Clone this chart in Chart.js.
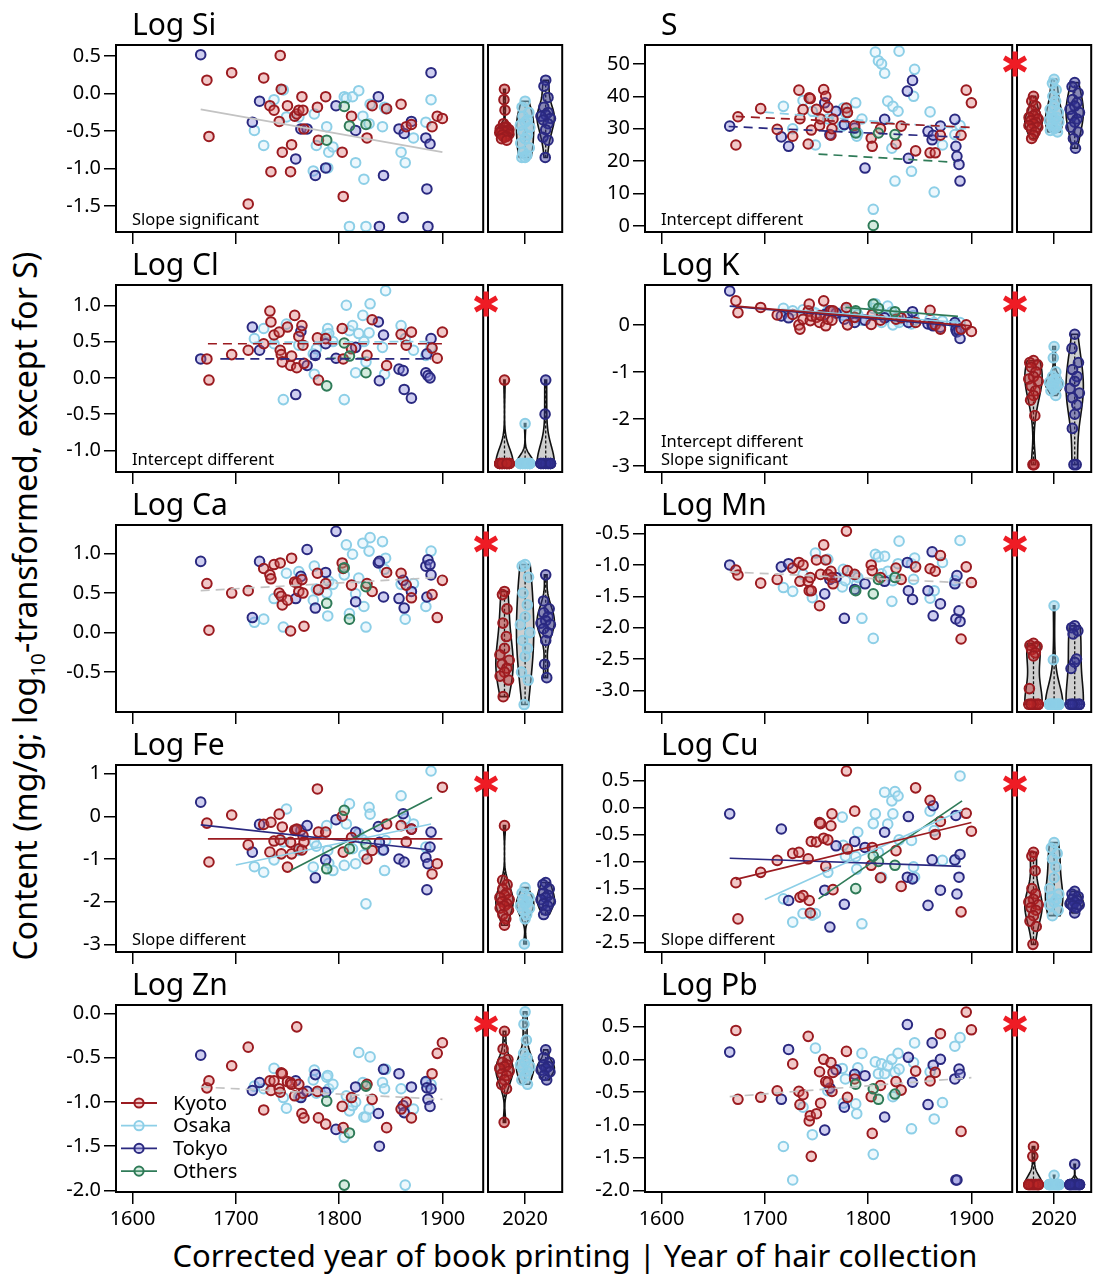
<!DOCTYPE html>
<html>
<head>
<meta charset="utf-8">
<script src="https://cdn.jsdelivr.net/npm/chart.js@4.4.1/dist/chart.umd.min.js"></script>
<style>
  html, body { margin: 0; padding: 0; background: #fff; }
  #fig { position: relative; width: 1104px; height: 1280px; overflow: hidden; font-family: 'Noto Sans', 'DejaVu Sans', sans-serif; color: #000; }
  #fig canvas { position: absolute; }
  .ytitle { position: absolute; left: 27px; top: 606px; transform: translate(-50%, -50%) rotate(-90deg); white-space: nowrap; font-size: 32px; }
  .ytitle sub { font-size: 0.65em; }
  .xtitle { position: absolute; left: 0; width: 1150px; top: 1234px; text-align: center; font-size: 31px; white-space: nowrap; }
</style>
</head>
<body>
<div id="fig">
  <div class="ytitle">Content (mg/g; log<sub>10</sub>-transformed, except for S)</div>
  <div class="xtitle">Corrected year of book printing | Year of hair collection</div>
</div>
<script>
// sample years (corrected year of printing) per city
const kyotoYears = [1672, 1674, 1696, 1712, 1727, 1733, 1734, 1737, 1742, 1743, 1744, 1745, 1750, 1753, 1754, 1757, 1759, 1761, 1764, 1765, 1766, 1779, 1780, 1787, 1803, 1804, 1812, 1827, 1832, 1846, 1860, 1865, 1870, 1890, 1895, 1900];
const osakaYears = [1718, 1727, 1737, 1746, 1749, 1761, 1775, 1776, 1778, 1788, 1789, 1790, 1794, 1805, 1807, 1810, 1813, 1816, 1819, 1823, 1824, 1826, 1829, 1830, 1842, 1844, 1845, 1860, 1864, 1872, 1884, 1889];
const tokyoYears = [1666, 1716, 1723, 1758, 1763, 1769, 1777, 1787, 1797, 1816, 1838, 1839, 1843, 1858, 1862, 1863, 1870, 1884, 1885, 1886, 1888, 1889];
const othersYears = [1788, 1805, 1810, 1826];
const cityNames = ['Kyoto', 'Osaka', 'Tokyo', 'Others'];
const yearTicks = [1600, 1700, 1800, 1900];
const modernLabel = '2020';

// Log Si
const siKyoto = [0.18, -0.57, 0.28, -1.47, 0.21, -0.16, -1.04, -0.22, -0.37, 0.51, 0.06, -0.78, -0.16, -1.04, -0.68, -0.30, -0.27, -0.22, -0.04, -0.22, -0.47, -0.18, -0.62, -0.04, -0.78, -1.37, -0.30, -0.59, -0.16, -0.20, -0.14, -0.44, -0.41, -0.44, -0.30, -0.33];
const siOsaka = [-0.49, -0.69, -0.08, 0.05, -0.31, -0.31, -1.03, -0.27, -0.69, -0.44, -0.99, -0.78, -0.71, -0.04, -0.06, -1.77, -0.04, -0.92, 0.04, -0.30, -1.14, -1.77, -0.40, -0.14, -0.44, -0.18, -0.20, -0.78, -0.92, -0.59, -0.38, -0.08];
const siTokyo = [0.52, -0.38, -0.10, -0.87, -0.47, -0.47, -1.09, -0.99, -0.16, -0.49, -0.04, -1.77, -1.09, -0.47, -1.65, -0.53, -0.37, -0.59, -1.27, -1.77, -0.67, 0.28];
const siOthers = [-0.62, -0.17, -0.43, -0.41];
const siNowKyoto = [0.06, -0.08, -0.22, -0.40, -0.44, -0.45, -0.47, -0.48, -0.49, -0.50, -0.51, -0.52, -0.54, -0.55, -0.57, -0.58, -0.60, -0.62];
const siNowOsaka = [-0.10, -0.18, -0.25, -0.30, -0.35, -0.38, -0.42, -0.45, -0.50, -0.55, -0.60, -0.66, -0.72, -0.78, -0.82, -0.85, -0.85];
const siNowTokyo = [0.18, 0.10, -0.05, -0.18, -0.25, -0.28, -0.30, -0.33, -0.35, -0.40, -0.48, -0.58, -0.62, -0.85];
const siFits = [{ city: 'all', from: [1666, -0.21], to: [1900, -0.78] }];
const siTicks = [0.5, 0, -0.5, -1, -1.5];

// S
const sKyoto = [25.0, 33.7, 36.2, 29.8, 27.7, 41.9, 33.1, 35.9, 25.3, 39.5, 39.3, 29.6, 36.0, 31.0, 33.0, 42.1, 40.0, 36.6, 28.0, 30.0, 33.0, 36.4, 35.0, 31.0, 27.1, 24.6, 30.0, 25.3, 30.8, 23.2, 22.6, 22.6, 28.0, 28.0, 41.9, 38.0];
const sOsaka = [36.9, 30.0, 38.7, 35.4, 25.0, 33.0, 30.8, 36.4, 35.0, 38.0, 27.7, 28.7, 33.0, 5.2, 53.6, 50.9, 50.0, 47.1, 38.5, 24.0, 36.9, 13.9, 35.4, 53.9, 16.9, 40.0, 48.3, 35.2, 10.5, 25.0, 28.2, 31.0];
const sTokyo = [30.8, 27.5, 24.6, 38.0, 28.2, 35.4, 31.3, 30.2, 17.9, 32.9, 41.6, 20.9, 44.9, 29.2, 26.6, 28.0, 30.8, 32.9, 24.6, 21.5, 19.0, 13.9];
const sOthers = [28.7, 0.2, 28.7, 28.2];
const sNowKyoto = [40, 38.5, 37, 35.5, 34.5, 34, 33.5, 33, 32.5, 32, 31.5, 31, 30.5, 30, 29, 28, 27];
const sNowOsaka = [45.2, 44, 42, 40, 38.5, 37, 36, 35, 34, 33.5, 33, 32.5, 32, 31, 30.5, 30, 29.5, 29];
const sNowTokyo = [44.2, 43, 41, 39, 38, 37, 36, 35, 34, 33, 32, 30.5, 29, 27, 24];
const sFits = [
  { city: 'Kyoto', from: [1672, 33.8], to: [1900, 30.4] },
  { city: 'Osaka', from: [1700, 35.1], to: [1895, 30.0] },
  { city: 'Tokyo', from: [1665, 30.7], to: [1888, 27.4] },
  { city: 'Others', from: [1752, 22.2], to: [1883, 19.7] }
];
const sTicks = [50, 40, 30, 20, 10, 0];

// Log Cl
const clKyoto = [0.26, -0.03, 0.32, 0.38, 0.47, 0.92, 0.77, 0.59, 0.63, 0.38, 0.32, 0.22, 0.70, 0.17, 0.30, 0.86, 0.14, 0.57, 0.72, 0.45, 0.20, 0.55, -0.03, 0.54, 0.68, 0.26, 0.40, 0.31, 0.80, 0.17, 0.60, 0.45, 0.63, 0.41, 0.27, 0.63];
const clOsaka = [0.54, 0.68, 0.47, -0.30, 0.74, 0.45, 0.33, 0.05, 0.40, 0.60, 0.68, 0.61, 0.50, -0.30, 1.00, 0.65, 0.72, 0.07, 0.61, 0.86, 0.50, 0.22, 0.62, 1.02, 0.42, 0.05, 1.20, 0.72, 0.54, 0.38, 0.31, 0.42];
const clTokyo = [0.26, 0.70, 0.38, -0.23, 0.64, 0.17, 0.31, 0.47, 0.27, 0.42, 0.77, -0.04, 0.59, 0.12, 0.10, -0.16, -0.28, 0.07, 0.33, 0.03, 0.00, 0.54];
const clOthers = [-0.11, 0.48, 0.30, 0.07];
const clNowKyoto = [-0.03, -1.18, -1.18, -1.18, -1.18, -1.18, -1.18, -1.18, -1.18, -1.18, -1.18, -1.18, -1.18, -1.18, -1.18];
const clNowOsaka = [-0.63, -1.18, -1.18, -1.18, -1.18, -1.18, -1.18, -1.18, -1.18, -1.18, -1.18, -1.18, -1.18];
const clNowTokyo = [-0.03, -0.50, -1.18, -1.18, -1.18, -1.18, -1.18, -1.18, -1.18, -1.18, -1.18, -1.18, -1.18];
const clFits = [
  { city: 'Kyoto', from: [1673, 0.47], to: [1900, 0.47] },
  { city: 'Osaka', from: [1718, 0.49], to: [1889, 0.50] },
  { city: 'Tokyo', from: [1685, 0.26], to: [1889, 0.26] },
  { city: 'Others', from: [1788, 0.27], to: [1826, 0.27] }
];
const clTicks = [1, 0.5, 0, -0.5, -1];

// Log K
const kKyoto = [0.51, 0.26, 0.37, 0.21, 0.22, 0.00, -0.09, 0.12, 0.30, 0.44, 0.09, 0.19, 0.16, 0.05, 0.20, 0.51, -0.02, 0.12, 0.30, 0.10, 0.30, 0.37, 0.00, 0.16, 0.01, 0.22, 0.10, 0.12, 0.15, 0.05, 0.31, 0.00, -0.09, -0.09, 0.00, -0.14];
const kOsaka = [0.35, 0.30, 0.32, 0.28, 0.25, 0.30, 0.26, 0.20, 0.33, 0.25, 0.15, 0.22, 0.10, 0.35, 0.45, 0.30, 0.05, 0.20, 0.40, 0.28, 0.00, 0.15, 0.10, 0.05, 0.02, 0.20, 0.10, 0.12, 0.05, 0.08, 0.00, 0.05];
const kTokyo = [0.72, 0.19, 0.15, 0.22, 0.30, 0.25, 0.12, 0.05, 0.10, 0.15, 0.18, 0.05, 0.28, 0.02, 0.00, -0.02, -0.05, 0.05, -0.10, -0.15, -0.12, -0.29];
const kOthers = [0.30, 0.44, 0.35, 0.28];
const kNowKyoto = [-0.76, -0.80, -0.85, -0.90, -1.00, -1.10, -1.15, -1.20, -1.30, -1.40, -1.50, -1.60, -1.93, -2.97, -2.97];
const kNowOsaka = [-0.46, -0.70, -1.00, -1.10, -1.15, -1.20, -1.22, -1.25, -1.28, -1.30, -1.35, -1.40, -1.50];
const kNowTokyo = [-0.20, -0.50, -0.80, -0.95, -1.10, -1.20, -1.35, -1.45, -1.55, -1.70, -1.90, -2.20, -2.97, -2.97];
const kFits = [
  { city: 'Kyoto', from: [1672, 0.40], to: [1900, -0.02] },
  { city: 'Osaka', from: [1716, 0.33], to: [1889, 0.05] },
  { city: 'Tokyo', from: [1666, 0.40], to: [1889, -0.03] },
  { city: 'Others', from: [1778, 0.37], to: [1887, 0.18] }
];
const kTicks = [0, -1, -2, -3];

// Log Ca
const caKyoto = [0.62, 0.03, 0.50, 0.53, 0.81, 0.73, 0.68, 0.86, 0.50, 0.88, 0.46, 0.35, 0.41, 0.02, 0.94, 0.64, 0.63, 0.52, 0.67, 0.50, 0.08, 0.75, 0.54, 0.62, 0.88, 0.81, 0.60, 0.62, 0.52, 0.76, 0.75, 0.60, 0.44, 0.48, 0.19, 0.66];
const caOsaka = [0.13, 0.17, 0.43, 0.07, 0.75, 0.77, 0.41, 0.84, 0.55, 0.50, 0.21, 0.65, 0.61, 0.73, 1.11, 0.24, 0.99, 0.49, 0.69, 1.13, 0.33, 0.07, 1.03, 1.20, 1.15, 0.80, 0.94, 0.61, 0.17, 0.62, 0.33, 1.03];
const caTokyo = [0.90, 0.19, 0.90, 0.43, 0.71, 1.05, 0.31, 0.76, 1.28, 0.39, 0.88, 0.90, 0.45, 0.43, 0.66, 0.31, 0.52, 0.84, 0.45, 0.92, 0.86, 0.73];
const caOthers = [0.37, 0.82, 0.17, 0.58];
const caNowKyoto = [0.52, 0.48, 0.30, 0.12, -0.05, -0.20, -0.28, -0.35, -0.40, -0.45, -0.50, -0.55, -0.60, -0.81];
const caNowOsaka = [0.86, 0.84, 0.70, 0.50, 0.35, 0.20, 0.10, 0.00, -0.10, -0.20, -0.30, -0.50, -0.60, -0.91];
const caNowTokyo = [0.73, 0.40, 0.30, 0.25, 0.20, 0.15, 0.12, 0.10, 0.05, 0.00, -0.10, -0.40, -0.57];
const caFits = [{ city: 'all', from: [1666, 0.53], to: [1900, 0.70] }];
const caTicks = [1, 0.5, 0, -0.5];

// Log Mn
const mnKyoto = [-1.08, -1.16, -1.29, -1.23, -1.05, -0.96, -1.26, -1.00, -1.26, -1.41, -1.20, -1.41, -0.92, -1.65, -1.15, -0.68, -0.92, -1.15, -1.10, -1.20, -1.30, -0.46, -1.09, -1.15, -1.00, -1.09, -1.20, -1.05, -1.23, -1.03, -1.06, -1.10, -0.85, -2.18, -1.03, -1.28];
const mnOsaka = [-1.36, -1.42, -1.15, -1.52, -0.81, -0.91, -1.35, -1.07, -1.25, -1.18, -1.30, -1.20, -1.85, -2.17, -0.83, -0.87, -1.14, -0.86, -1.10, -1.58, -1.25, -1.20, -0.98, -0.62, -0.98, -1.23, -0.89, -1.53, -1.41, -0.96, -1.25, -0.61];
const mnTokyo = [-1.00, -1.03, -0.98, -1.46, -1.23, -1.20, -1.85, -1.39, -1.30, -1.26, -0.96, -1.41, -1.55, -1.41, -0.79, -1.81, -1.62, -1.30, -1.86, -1.17, -1.73, -1.90];
const mnOthers = [-1.41, -1.46, -1.23, -1.20];
const mnNowKyoto = [-2.25, -2.28, -2.30, -2.35, -2.40, -2.45, -2.97, -3.22, -3.22, -3.22, -3.22, -3.22, -3.22, -3.22];
const mnNowOsaka = [-1.65, -2.51, -3.22, -3.22, -3.22, -3.22, -3.22, -3.22, -3.22, -3.22, -3.22, -3.22, -3.22, -3.22];
const mnNowTokyo = [-1.97, -2.00, -2.05, -2.10, -2.50, -2.55, -2.65, -3.22, -3.22, -3.22, -3.22, -3.22, -3.22, -3.22];
const mnFits = [{ city: 'all', from: [1666, -1.11], to: [1900, -1.29] }];
const mnTicks = [-0.5, -1, -1.5, -2, -2.5, -3];

// Log Fe
const feKyoto = [-0.16, -1.07, 0.03, -0.67, -0.19, -0.84, -0.14, -0.58, 0.05, -0.55, -0.88, -0.25, -1.19, -0.61, -0.88, -0.32, -0.30, -0.76, -0.79, -0.45, -0.60, 0.64, -0.37, -0.37, 0.00, -0.84, -0.50, -1.00, -0.80, -0.18, -0.22, -0.60, -0.30, -1.35, -1.11, 0.68];
const feOsaka = [-1.18, -1.31, -1.02, -0.60, 0.17, -0.80, -1.19, -0.61, -0.70, -0.22, -0.80, -1.10, -1.27, -1.15, -0.18, 0.29, -0.76, -1.11, -0.40, -0.55, -0.90, -2.05, 0.21, 0.05, -0.80, -1.27, -0.57, 0.48, -0.06, -0.18, -0.72, 1.06];
const feTokyo = [0.33, -0.84, -0.19, -0.33, -0.33, -0.22, -1.44, -1.02, -0.08, -0.37, -0.24, -0.61, -0.79, -1.00, 0.06, -1.07, -0.30, -0.96, -1.72, -1.11, -0.72, -0.37];
const feOthers = [-1.23, 0.14, -0.76, -0.65];
const feNowKyoto = [-0.22, -1.50, -1.60, -1.70, -1.80, -1.85, -1.90, -1.95, -2.00, -2.05, -2.10, -2.15, -2.20, -2.30, -2.40, -2.55];
const feNowOsaka = [-1.67, -1.80, -1.90, -1.95, -2.00, -2.05, -2.10, -2.15, -2.20, -2.30, -2.40, -2.99];
const feNowTokyo = [-1.55, -1.60, -1.70, -1.80, -1.85, -1.90, -1.95, -2.00, -2.05, -2.10, -2.20, -2.30];
const feFits = [
  { city: 'Kyoto', from: [1673, -0.53], to: [1900, -0.53] },
  { city: 'Osaka', from: [1700, -1.14], to: [1889, -0.18] },
  { city: 'Tokyo', from: [1666, -0.20], to: [1889, -0.79] },
  { city: 'Others', from: [1753, -1.27], to: [1890, 0.44] }
];
const feTicks = [1, 0, -1, -2, -3];

// Log Cu
const cuKyoto = [-1.39, -2.06, -1.20, -0.98, -0.85, -0.83, -1.66, -1.63, -0.95, -1.72, -1.95, -0.63, -0.64, -0.28, -0.30, -0.57, -1.09, -0.60, -0.34, -0.12, -1.52, 0.67, -0.77, -0.07, -1.07, -0.74, -1.30, -0.80, -1.46, 0.36, 0.13, -0.50, -0.26, -1.93, -0.11, -0.44];
const cuOsaka = [-1.69, -2.12, -1.96, -1.99, -1.96, -1.20, -0.18, -0.70, -0.90, -0.91, -1.14, -0.46, -2.15, -0.30, -0.12, -0.83, -1.29, 0.28, -0.31, 0.12, -0.12, 0.29, 0.21, -0.60, -0.61, -1.10, -1.29, -0.07, -0.43, -0.98, -0.98, 0.58];
const cuTokyo = [-0.12, -0.40, -1.72, -1.53, -2.21, -0.71, -1.79, -0.63, -0.74, -0.46, -1.29, -0.17, -1.32, -1.81, -0.97, 0.03, -1.53, -0.97, -0.15, -1.60, -1.29, -0.87];
const cuOthers = [-1.50, -0.90, -1.00, -1.07];
const cuNowKyoto = [-0.83, -0.90, -1.17, -1.50, -1.60, -1.70, -1.75, -1.80, -1.85, -1.90, -2.00, -2.10, -2.20, -2.53];
const cuNowOsaka = [-0.65, -0.75, -0.85, -0.95, -1.10, -1.30, -1.50, -1.60, -1.65, -1.70, -1.75, -1.80, -1.90, -2.00];
const cuNowTokyo = [-1.55, -1.60, -1.65, -1.70, -1.72, -1.75, -1.78, -1.80, -1.82, -1.85, -1.95];
const cuFits = [
  { city: 'Kyoto', from: [1672, -1.33], to: [1900, -0.28] },
  { city: 'Osaka', from: [1700, -1.70], to: [1891, -0.05] },
  { city: 'Tokyo', from: [1666, -0.94], to: [1890, -1.09] },
  { city: 'Others', from: [1752, -1.69], to: [1891, 0.12] }
];
const cuTicks = [0.5, 0, -0.5, -1, -1.5, -2, -2.5];

// Log Zn
const znKyoto = [-0.84, -0.76, -0.59, -0.38, -1.09, -0.76, -0.87, -0.76, -0.85, -0.89, -0.67, -0.68, -0.77, -0.78, -0.80, -0.93, -0.15, -0.80, -1.13, -0.90, -1.18, -0.88, -1.18, -1.25, -1.05, -1.29, -0.95, -0.80, -0.97, -1.29, -1.08, -1.00, -1.18, -0.68, -0.45, -0.33];
const znOsaka = [-0.82, -0.85, -0.62, -0.95, -1.07, -0.94, -0.75, -0.64, -0.90, -0.72, -0.70, -0.85, -0.80, -1.40, -0.93, -1.10, -1.04, -1.00, -0.44, -0.78, -1.17, -1.17, -1.08, -0.49, -0.78, -0.85, -0.63, -0.85, -1.94, -1.08, -0.78, -0.80];
const znTokyo = [-0.47, -0.87, -0.78, -0.76, -0.95, -0.88, -0.69, -0.89, -1.31, -0.83, -1.13, -1.50, -0.63, -0.68, -1.04, -1.12, -0.83, -0.77, -0.84, -0.97, -1.05, -0.85];
const znOthers = [-0.99, -1.94, -1.35, -0.82];
const znNowKyoto = [-0.20, -0.40, -0.52, -0.55, -0.58, -0.60, -0.62, -0.65, -0.68, -0.70, -0.75, -0.80, -0.85, -1.23];
const znNowOsaka = [0.02, -0.12, -0.30, -0.45, -0.50, -0.55, -0.58, -0.60, -0.62, -0.65, -0.70, -0.75, -0.80];
const znNowTokyo = [-0.41, -0.50, -0.55, -0.58, -0.60, -0.62, -0.64, -0.66, -0.70, -0.75];
const znFits = [{ city: 'all', from: [1666, -0.83], to: [1900, -0.97] }];
const znTicks = [0, -0.5, -1, -1.5, -2];

// Log Pb
const pbKyoto = [0.44, -0.61, -0.58, -0.48, -0.07, -0.49, -0.69, -0.54, 0.35, -0.94, -0.86, -1.48, -0.83, -0.19, -0.67, 0.00, -0.34, -0.35, -0.05, -0.49, -0.20, 0.12, -0.58, -0.30, -0.57, -1.13, -0.40, -0.34, -0.47, -0.18, -0.33, -0.20, 0.39, -1.10, 0.72, 0.45];
const pbOsaka = [-1.33, -1.84, -0.73, -1.15, 0.17, -0.48, -0.14, -0.67, -0.30, -0.68, -0.83, -0.13, 0.09, -1.45, -0.04, -0.22, -0.07, -0.22, -0.10, 0.00, -0.57, -0.20, 0.09, -0.15, -1.06, -0.05, 0.25, -0.19, -0.91, -0.66, 0.20, 0.33];
const pbTokyo = [0.11, -0.61, 0.15, -1.08, -0.44, -0.16, -0.73, -0.23, -0.25, -0.88, 0.53, 0.03, -0.35, -0.69, 0.25, -0.09, 0.00, -0.30, -1.84, -1.84, -0.15, -0.23];
const pbOthers = [-0.38, -0.45, -0.61, -0.53];
const pbNowKyoto = [-1.33, -1.48, -1.91, -1.91, -1.91, -1.91, -1.91, -1.91, -1.91, -1.91, -1.91, -1.91, -1.91];
const pbNowOsaka = [-1.77, -1.91, -1.91, -1.91, -1.91, -1.91, -1.91, -1.91, -1.91, -1.91, -1.91, -1.91, -1.91];
const pbNowTokyo = [-1.60, -1.91, -1.91, -1.91, -1.91, -1.91, -1.91, -1.91, -1.91, -1.91, -1.91, -1.91, -1.91];
const pbFits = [{ city: 'all', from: [1666, -0.57], to: [1900, -0.28] }];
const pbTicks = [0.5, 0, -0.5, -1, -1.5, -2];

// styles
const cityStroke = ['#9b1b20', '#8dcfe7', '#2a2980', '#2f7b58'];
const cityFill = ['rgba(214,96,96,0.35)', 'rgba(205,236,248,0.35)', 'rgba(125,125,215,0.38)', 'rgba(120,190,150,0.3)'];
const violinPointFill = ['rgba(190,40,40,0.45)', 'rgba(140,205,232,0.5)', 'rgba(50,50,150,0.45)'];
const fitGrey = '#c3c3c3';
const allYears = [kyotoYears, osakaYears, tokyoYears, othersYears];

const panels = [
  { title: 'Log Si', row: 0, col: 0, min: -1.844, max: 0.649, ticks: siTicks, dec: 1, notes: ['Slope significant'], star: false, dashed: false,
    pts: [siKyoto, siOsaka, siTokyo, siOthers], now: [siNowKyoto, siNowOsaka, siNowTokyo], fits: siFits },
  { title: 'S', row: 0, col: 1, min: -1.8, max: 55.8, ticks: sTicks, dec: 0, notes: ['Intercept different'], star: true, dashed: true,
    pts: [sKyoto, sOsaka, sTokyo, sOthers], now: [sNowKyoto, sNowOsaka, sNowTokyo], fits: sFits },
  { title: 'Log Cl', row: 1, col: 0, min: -1.297, max: 1.279, ticks: clTicks, dec: 1, notes: ['Intercept different'], star: true, dashed: true,
    pts: [clKyoto, clOsaka, clTokyo, clOthers], now: [clNowKyoto, clNowOsaka, clNowTokyo], fits: clFits },
  { title: 'Log K', row: 1, col: 1, min: -3.127, max: 0.847, ticks: kTicks, dec: 0, notes: ['Intercept different', 'Slope significant'], star: true, dashed: false,
    pts: [kKyoto, kOsaka, kTokyo, kOthers], now: [kNowKyoto, kNowOsaka, kNowTokyo], fits: kFits },
  { title: 'Log Ca', row: 2, col: 0, min: -1.004, max: 1.36, ticks: caTicks, dec: 1, notes: [], star: true, dashed: true,
    pts: [caKyoto, caOsaka, caTokyo, caOthers], now: [caNowKyoto, caNowOsaka, caNowTokyo], fits: caFits },
  { title: 'Log Mn', row: 2, col: 1, min: -3.343, max: -0.363, ticks: mnTicks, dec: 1, notes: [], star: true, dashed: true,
    pts: [mnKyoto, mnOsaka, mnTokyo, mnOthers], now: [mnNowKyoto, mnNowOsaka, mnNowTokyo], fits: mnFits },
  { title: 'Log Fe', row: 3, col: 0, min: -3.177, max: 1.2, ticks: feTicks, dec: 0, notes: ['Slope different'], star: true, dashed: false,
    pts: [feKyoto, feOsaka, feTokyo, feOthers], now: [feNowKyoto, feNowOsaka, feNowTokyo], fits: feFits },
  { title: 'Log Cu', row: 3, col: 1, min: -2.671, max: 0.782, ticks: cuTicks, dec: 1, notes: ['Slope different'], star: true, dashed: false,
    pts: [cuKyoto, cuOsaka, cuTokyo, cuOthers], now: [cuNowKyoto, cuNowOsaka, cuNowTokyo], fits: cuFits },
  { title: 'Log Zn', row: 4, col: 0, min: -2.018, max: 0.097, ticks: znTicks, dec: 1, notes: [], star: true, dashed: true, legend: true,
    pts: [znKyoto, znOsaka, znTokyo, znOthers], now: [znNowKyoto, znNowOsaka, znNowTokyo], fits: znFits },
  { title: 'Log Pb', row: 4, col: 1, min: -2.024, max: 0.828, ticks: pbTicks, dec: 1, notes: [], star: true, dashed: true,
    pts: [pbKyoto, pbOsaka, pbTokyo, pbOthers], now: [pbNowKyoto, pbNowOsaka, pbNowTokyo], fits: pbFits }
];

Chart.defaults.font.family = "'Noto Sans', 'DejaVu Sans', sans-serif";
Chart.defaults.color = '#000';

const FONT = "'Noto Sans', 'DejaVu Sans', sans-serif";
const boxLeft = [116, 645];
const BOX_W = 368, BOX_H = 187, VIO_W = 75, PAD_TOP = 45, AXIS_H = 45;
const violinPos = [1, 2, 3];
const jitter = [0, -0.55, 0.55, -0.28, 0.28];

// kernel density helpers for the violins
function bandwidth(vals) {
  const n = vals.length;
  const m = vals.reduce((a, b) => a + b, 0) / n;
  const sd = Math.sqrt(vals.reduce((s, v) => s + (v - m) * (v - m), 0) / (n - 1));
  const s = [...vals].sort((a, b) => a - b);
  const q = p => { const i = (n - 1) * p, lo = Math.floor(i), hi = Math.ceil(i); return s[lo] + (s[hi] - s[lo]) * (i - lo); };
  let lo = Math.min(sd, (q(0.75) - q(0.25)) / 1.34);
  if (!(lo > 0)) lo = sd || 1;
  return 1.3 * 0.9 * lo * Math.pow(n, -0.2);
}
function violinShape(vals) {
  const h = bandwidth(vals);
  const lo = Math.min(...vals), hi = Math.max(...vals);
  const dens = y => vals.reduce((s, v) => { const u = (y - v) / h; return s + Math.exp(-0.5 * u * u); }, 0);
  let maxD = 0;
  for (let i = 0; i <= 80; i++) maxD = Math.max(maxD, dens(lo + (hi - lo) * i / 80));
  return { lo, hi, half: y => 0.42 * dens(y) / maxD };
}
// kept outside chart options so Chart.js does not treat the functions as scriptable options
const violinShapes = panels.map(p => p.now.map(vals => violinShape(vals)));

function addCanvas(left, top, w, h) {
  const cv = document.createElement('canvas');
  cv.width = w; cv.height = h;
  cv.style.left = left + 'px'; cv.style.top = top + 'px';
  cv.style.width = w + 'px'; cv.style.height = h + 'px';
  document.getElementById('fig').appendChild(cv);
  return cv.getContext('2d');
}

function drawStar(ctx, cx, cy) {
  ctx.save();
  ctx.strokeStyle = '#ee1c25';
  ctx.lineWidth = 5;
  [90, 30, 150].forEach(a => {
    const r = a * Math.PI / 180, dx = Math.cos(r) * 12.5, dy = Math.sin(r) * 12.5;
    ctx.beginPath(); ctx.moveTo(cx - dx, cy - dy); ctx.lineTo(cx + dx, cy + dy); ctx.stroke();
  });
  ctx.restore();
}

const panelPlugin = {
  id: 'panelDeco',
  beforeDatasetsDraw(chart, args, opts) {
    if (opts.kind !== 'violin') return;
    const ctx = chart.ctx, xs = chart.scales.x, ys = chart.scales.y;
    violinShapes[opts.idx].forEach((sh, g) => {
      const steps = 60, left = [], right = [];
      for (let i = 0; i <= steps; i++) {
        const y = sh.lo + (sh.hi - sh.lo) * i / steps, w = sh.half(y);
        left.push([xs.getPixelForValue(violinPos[g] - w), ys.getPixelForValue(y)]);
        right.push([xs.getPixelForValue(violinPos[g] + w), ys.getPixelForValue(y)]);
      }
      ctx.save();
      ctx.beginPath();
      left.forEach((pt, i) => i ? ctx.lineTo(pt[0], pt[1]) : ctx.moveTo(pt[0], pt[1]));
      right.reverse().forEach(pt => ctx.lineTo(pt[0], pt[1]));
      ctx.closePath();
      ctx.fillStyle = 'rgba(195,195,195,0.8)';
      ctx.fill();
      ctx.strokeStyle = '#111';
      ctx.lineWidth = 1.6;
      ctx.stroke();
      const cx = xs.getPixelForValue(violinPos[g]);
      ctx.setLineDash([3, 2]);
      ctx.lineWidth = 1.3;
      ctx.beginPath(); ctx.moveTo(cx, ys.getPixelForValue(sh.lo)); ctx.lineTo(cx, ys.getPixelForValue(sh.hi)); ctx.stroke();
      ctx.restore();
    });
  },
  afterDraw(chart, args, opts) {
    const ctx = chart.ctx, a = chart.chartArea, p = panels[opts.idx];
    ctx.save();
    ctx.strokeStyle = '#000';
    ctx.lineWidth = 2;
    ctx.strokeRect(a.left, a.top, a.right - a.left, a.bottom - a.top);
    if (opts.kind === 'violin') {
      if (p.star) drawStar(ctx, a.left - 2, a.top + 19);
      ctx.restore();
      return;
    }
    ctx.fillStyle = '#000';
    ctx.textBaseline = 'alphabetic';
    ctx.textAlign = 'left';
    ctx.font = '30px ' + FONT;
    ctx.fillText(p.title, a.left + 16, a.top - 10);
    ctx.font = '16.5px ' + FONT;
    p.notes.forEach((t, i) => ctx.fillText(t, a.left + 16, a.bottom - 7 - (p.notes.length - 1 - i) * 18));
    if (p.legend) {
      cityNames.forEach((name, i) => {
        const y = a.top + 98 + i * 22.7;
        ctx.strokeStyle = cityStroke[i];
        ctx.lineWidth = 1.8;
        ctx.beginPath(); ctx.moveTo(a.left + 5, y); ctx.lineTo(a.left + 41, y); ctx.stroke();
        ctx.beginPath(); ctx.arc(a.left + 23, y, 4.6, 0, Math.PI * 2);
        ctx.fillStyle = cityFill[i]; ctx.fill();
        ctx.lineWidth = 2; ctx.stroke();
        ctx.fillStyle = '#000';
        ctx.font = '20px ' + FONT;
        ctx.textBaseline = 'middle';
        ctx.fillText(name, a.left + 57, y + 1);
      });
    }
    ctx.restore();
  }
};

const tickGrid = { drawOnChartArea: false, drawTicks: true, tickLength: 12, color: '#000', lineWidth: 1.5 };

function yScale(p) {
  return {
    type: 'linear', min: p.min, max: p.max,
    afterBuildTicks: s => { s.ticks = p.ticks.map(v => ({ value: v })); },
    afterFit: s => { s.width = boxLeft[0]; },
    grid: tickGrid,
    border: { display: false },
    ticks: { font: { size: 20 }, color: '#000', padding: 3, autoSkip: false, callback: v => v.toFixed(p.dec) }
  };
}

panels.forEach((p, idx) => {
  const bl = boxLeft[p.col], bt = 45 + 240 * p.row, bottomRow = p.row === 4;

  // scatter panel: historical hair samples
  const datasets = [];
  p.fits.forEach(f => {
    const ci = cityNames.indexOf(f.city);
    datasets.push({
      data: [{ x: f.from[0], y: f.from[1] }, { x: f.to[0], y: f.to[1] }],
      showLine: true, pointRadius: 0, borderWidth: 1.7,
      borderColor: ci < 0 ? fitGrey : cityStroke[ci],
      borderDash: p.dashed ? [9, 6] : []
    });
  });
  [3, 0, 2, 1].forEach(ci => {
    datasets.push({
      label: cityNames[ci],
      data: allYears[ci].map((yr, j) => ({ x: yr, y: p.pts[ci][j] })),
      showLine: false, pointRadius: 4.8, pointBorderWidth: 2,
      borderColor: cityStroke[ci], backgroundColor: cityFill[ci]
    });
  });
  const ctxS = addCanvas(bl - boxLeft[0], bt - PAD_TOP, boxLeft[0] + BOX_W + 6, PAD_TOP + BOX_H + AXIS_H);
  new Chart(ctxS, {
    type: 'scatter',
    data: { datasets },
    options: {
      responsive: false, animation: false,
      layout: { padding: { top: PAD_TOP, right: 6, left: 0, bottom: 0 } },
      plugins: { legend: { display: false }, tooltip: { enabled: false }, panelDeco: { idx, kind: 'scatter' } },
      scales: {
        x: {
          type: 'linear', min: 1584, max: 1939.5,
          afterBuildTicks: s => { s.ticks = yearTicks.map(v => ({ value: v })); },
          afterFit: s => { s.height = AXIS_H; },
          grid: tickGrid,
          border: { display: false },
          ticks: { display: bottomRow, font: { size: 20 }, color: '#000', padding: 3, maxRotation: 0, autoSkip: false, callback: v => String(v) }
        },
        y: yScale(p)
      }
    },
    plugins: [panelPlugin]
  });

  // violin panel: 2020 hair samples, same y range
  const shapes = violinShapes[idx];
  const vds = [0, 2, 1].map(g => ({
    data: p.now[g].map((v, j) => ({ x: violinPos[g] + shapes[g].half(v) * jitter[j % jitter.length], y: v })),
    showLine: false, pointRadius: 4.8, pointBorderWidth: 2,
    borderColor: cityStroke[g], backgroundColor: violinPointFill[g]
  }));
  const vl = bl + BOX_W + 4;
  const ctxV = addCanvas(vl - 30, bt - PAD_TOP, 30 + VIO_W + 6, PAD_TOP + BOX_H + AXIS_H);
  new Chart(ctxV, {
    type: 'scatter',
    data: { datasets: vds },
    options: {
      responsive: false, animation: false,
      layout: { padding: { top: PAD_TOP, right: 6, left: 30, bottom: 0 } },
      plugins: { legend: { display: false }, tooltip: { enabled: false }, panelDeco: { idx, kind: 'violin' } },
      scales: {
        x: {
          type: 'linear', min: 0.2, max: 3.8,
          afterBuildTicks: s => { s.ticks = [{ value: 2 }]; },
          afterFit: s => { s.height = AXIS_H; },
          grid: tickGrid,
          border: { display: false },
          ticks: { display: bottomRow, font: { size: 20 }, color: '#000', padding: 3, maxRotation: 0, autoSkip: false, callback: () => modernLabel }
        },
        y: { type: 'linear', min: p.min, max: p.max, display: false }
      }
    },
    plugins: [panelPlugin]
  });
});
</script>
</body>
</html>
